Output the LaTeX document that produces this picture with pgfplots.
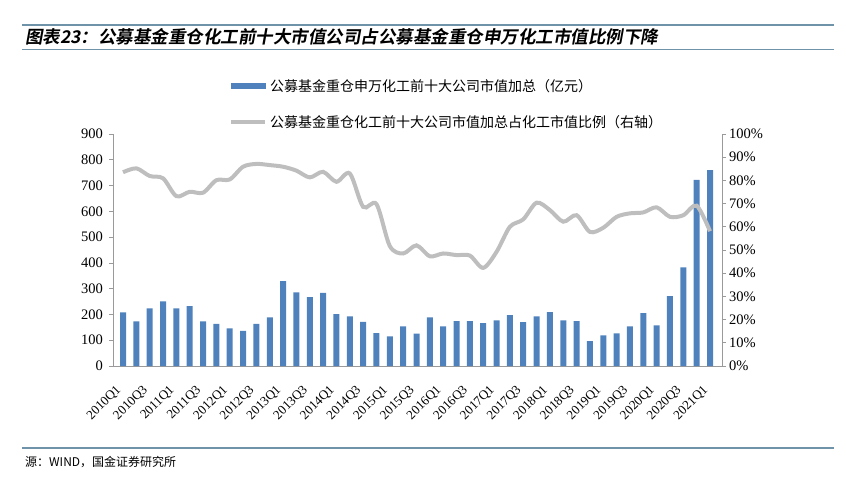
\documentclass[border=0pt]{standalone}
\usepackage{pgfplots}
\pgfplotsset{compat=1.18}
\usepackage{fontspec}
\setmainfont{Liberation Serif}
\newfontfamily\cjk{Noto Sans CJK SC}
\newfontfamily\cjktitle[UprightFont=* Bold, FakeSlant=0.18]{Noto Sans CJK SC}

\definecolor{barblue}{HTML}{4F81BD}
\definecolor{linegray}{HTML}{BEBEBE}
\definecolor{axisgray}{HTML}{9A9A9A}
\definecolor{rulecol}{HTML}{6F93A8}

\pgfplotsset{
  common/.style={
    scale only axis,
    width=609pt, height=232pt,
    at={(113pt,-366pt)}, anchor=south west,
    xmin=0.25, xmax=45.9,
    axis line style={draw=axisgray, line width=0.8pt},
    tick style={draw=axisgray, line width=0.8pt},
    major tick length=4pt,
    /pgf/number format/assume math mode=true,
  },
}

\begin{document}
\begin{tikzpicture}
\path[use as bounding box] (0,0) rectangle (846pt,-483pt);

% title block
\draw[rulecol, line width=1.2pt] (22pt,-25pt) -- (834pt,-25pt);
\draw[rulecol, line width=1.2pt] (22pt,-49.5pt) -- (834pt,-49.5pt);
\node[anchor=west, inner sep=0pt] at (25pt,-37pt)
  {\cjktitle\fontsize{17.5}{20}\selectfont 图表23：公募基金重仓化工前十大市值公司占公募基金重仓申万化工市值比例下降};

% bars, left axis
\begin{axis}[
  common,
  ymin=0, ymax=900,
  ytick={0,100,...,900},
  axis y line*=left,
  axis x line*=bottom,
  tick align=outside,
  xtick={1,3,...,45},
  xticklabels={2010Q1,2010Q3,2011Q1,2011Q3,2012Q1,2012Q3,2013Q1,2013Q3,2014Q1,2014Q3,2015Q1,2015Q3,2016Q1,2016Q3,2017Q1,2017Q3,2018Q1,2018Q3,2019Q1,2019Q3,2020Q1,2020Q3,2021Q1},
  xtick style={draw=none},
  xticklabel style={font=\fontsize{13}{15}\selectfont, inner sep=0pt, xshift=-4pt, yshift=-18pt, rotate=45, anchor=east},
  yticklabel style={font=\fontsize{14.5}{16}\selectfont, inner sep=0pt, xshift=-6pt},
]
\addplot[ybar, bar width=6pt, fill=barblue, draw=none] coordinates {
(1,208) (2,173) (3,224) (4,251) (5,224) (6,232) (7,173) (8,163) (9,146) (10,136)
(11,163) (12,189) (13,329) (14,286) (15,267) (16,284) (17,201) (18,193) (19,171) (20,128)
(21,115) (22,154) (23,126) (24,189) (25,154) (26,174) (27,174) (28,166) (29,177) (30,197)
(31,170) (32,193) (33,209) (34,177) (35,174) (36,97) (37,119) (38,127) (39,154) (40,205)
(41,158) (42,271) (43,383) (44,722) (45,760)
};
\end{axis}

% share line, right axis
\begin{axis}[
  common,
  ymin=0, ymax=100,
  ytick={0,10,...,100},
  yticklabel={\pgfmathprintnumber{\tick}\%},
  axis y line*=right,
  axis x line=none,
  tick align=outside,
  yticklabel style={font=\fontsize{14.5}{16}\selectfont, inner sep=0pt, xshift=3pt},
  legend style={draw=none, fill=none, at={(0.1905,1.2457)}, anchor=north west,
    inner sep=0pt, row sep=19pt,
    font=\cjk\fontsize{14}{17}\selectfont,
    /tikz/every odd column/.append style={column sep=1pt}},
  legend cell align=left,
]
\addlegendimage{legend image code/.code={\fill[barblue] (0pt,-2.5pt) rectangle (34pt,2.5pt);}}
\addlegendentry{公募基金重仓申万化工前十大公司市值加总（亿元）}
\addplot[linegray, line width=4pt, smooth, tension=0.5,
  legend image code/.code={\draw[linegray, line width=4pt] (0pt,0pt) -- (34pt,0pt);}] coordinates {
(1,83.5) (2,85.2) (3,81.9) (4,80.9) (5,73.2) (6,75.1) (7,74.7) (8,80.1) (9,80.4) (10,85.9)
(11,87.1) (12,86.6) (13,85.9) (14,84.2) (15,81.3) (16,83.7) (17,79.4) (18,83.0) (19,68.6) (20,69.8)
(21,51.7) (22,48.5) (23,52.0) (24,47.3) (25,48.5) (26,47.8) (27,47.6) (28,42.3) (29,49.2) (30,60.0)
(31,63.2) (32,70.4) (33,67.2) (34,62.2) (35,65.0) (36,57.8) (37,59.6) (38,64.3) (39,65.8) (40,66.2)
(41,68.4) (42,64.3) (43,65.0) (44,69.1) (45,58.1)
};
\addlegendentry{公募基金重仓化工前十大公司市值加总占化工市值比例（右轴）}
\end{axis}

% source block
\draw[rulecol, line width=1.2pt] (22pt,-448pt) -- (834pt,-448pt);
\node[anchor=west, inner sep=0pt] at (25pt,-462pt)
  {\cjk\fontsize{12}{14}\selectfont 源：WIND，国金证券研究所};
\end{tikzpicture}
\end{document}
